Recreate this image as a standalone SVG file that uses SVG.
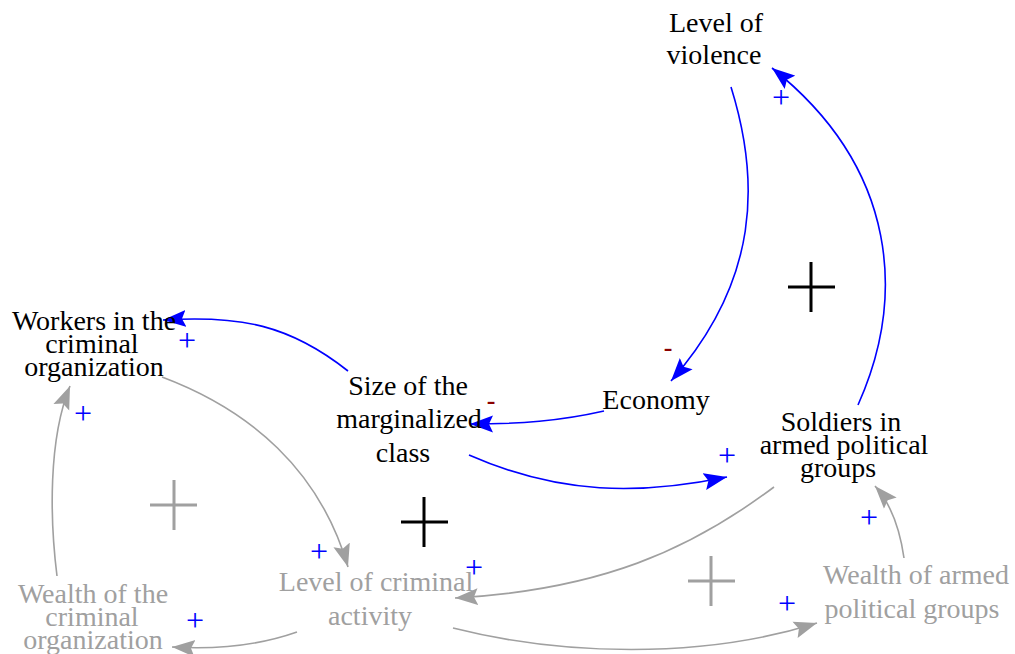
<svg xmlns="http://www.w3.org/2000/svg" width="1015" height="654" viewBox="0 0 1015 654">
<style>
text{font-family:"Liberation Serif","Times New Roman",serif;text-anchor:middle}
.n{font-size:28px;fill:#000}
.g{fill:#a0a0a0}
.b{fill:none;stroke:#0000ff;stroke-width:1.6}
.gr{fill:none;stroke:#a0a0a0;stroke-width:1.6}
.p{font-size:32px;fill:#0000ff}
.m{font-size:26px;fill:#8b0000;font-weight:bold}
.lb{stroke:#000;stroke-width:3}
.lg{stroke:#a0a0a0;stroke-width:3}
</style>
<defs>
<marker id="ab" markerUnits="userSpaceOnUse" markerWidth="26" markerHeight="18" refX="23" refY="8.5" orient="auto" viewBox="0 0 26 17">
<path d="M0,0 L23,8.5 L0,17 L4,8.5 z" fill="#0000ff"/>
</marker>
<marker id="ag" markerUnits="userSpaceOnUse" markerWidth="26" markerHeight="18" refX="23" refY="8.5" orient="auto" viewBox="0 0 26 17">
<path d="M0,0 L23,8.5 L0,17 L4,8.5 z" fill="#a0a0a0"/>
</marker>
</defs>
<g id="connectors">
<path class="b" d="M731,87 C760,180 760,280 671,381" marker-end="url(#ab)"/>
<path class="b" d="M858,405 C905,300 900,170 772,68" marker-end="url(#ab)"/>
<path class="b" d="M604,411 C560,421 520,424 470,424" marker-end="url(#ab)"/>
<path class="b" d="M348,371 C290,325 240,315 163,320" marker-end="url(#ab)"/>
<path class="b" d="M469,455 C560,495 640,495 727,477" marker-end="url(#ab)"/>
<path class="gr" d="M162,377 C250,410 320,470 348,567" marker-end="url(#ag)"/>
<path class="gr" d="M57,576 C50,520 48,440 70,386" marker-end="url(#ag)"/>
<path class="gr" d="M774,487 C690,550 600,590 455,598" marker-end="url(#ag)"/>
<path class="gr" d="M904,558 C900,530 892,505 875,486" marker-end="url(#ag)"/>
<path class="gr" d="M297,632 C260,645 220,650 172,647" marker-end="url(#ag)"/>
<path class="gr" d="M453,628 C560,655 700,660 817,623" marker-end="url(#ag)"/>
</g>
<g id="polarities">
<text class="m" x="668" y="356">-</text>
<text class="m" x="491" y="409">-</text>
<text class="p" x="781" y="108">+</text>
<text class="p" x="187" y="351">+</text>
<text class="p" x="83" y="424">+</text>
<text class="p" x="727" y="466">+</text>
<text class="p" x="319" y="562">+</text>
<text class="p" x="474" y="578">+</text>
<text class="p" x="869" y="528">+</text>
<text class="p" x="195" y="631">+</text>
<text class="p" x="787" y="614">+</text>
</g>
<g id="loops">
<path class="lb" d="M788,287 H835 M811,262 V312"/>
<path class="lb" d="M401,522 H448 M424,497 V547"/>
<path class="lg" d="M150,505 H197 M174,480 V530"/>
<path class="lg" d="M688,581 H735 M711,556 V606"/>
</g>
<g id="level-of-violence">
<text class="n" x="716" y="32">Level of</text>
<text class="n" x="714" y="64">violence</text>
</g>
<g id="economy">
<text class="n" x="656" y="409">Economy</text>
</g>
<g id="size-of-marginalized-class">
<text class="n" x="408" y="395">Size of the</text>
<text class="n" x="409" y="428">marginalized</text>
<text class="n" x="403" y="462">class</text>
</g>
<g id="workers">
<text class="n" x="94" y="330">Workers in the</text>
<text class="n" x="92" y="353">criminal</text>
<text class="n" x="94" y="376">organization</text>
</g>
<g id="soldiers">
<text class="n" x="841" y="431">Soldiers in</text>
<text class="n" x="844" y="454">armed political</text>
<text class="n" x="838" y="477">groups</text>
</g>
<g id="level-of-criminal-activity">
<text class="n g" x="376" y="591">Level of criminal</text>
<text class="n g" x="370" y="625">activity</text>
</g>
<g id="wealth-criminal">
<text class="n g" x="93" y="603">Wealth of the</text>
<text class="n g" x="92" y="626">criminal</text>
<text class="n g" x="93" y="649">organization</text>
</g>
<g id="wealth-armed">
<text class="n g" x="916" y="584">Wealth of armed</text>
<text class="n g" x="912" y="618">political groups</text>
</g>
</svg>
